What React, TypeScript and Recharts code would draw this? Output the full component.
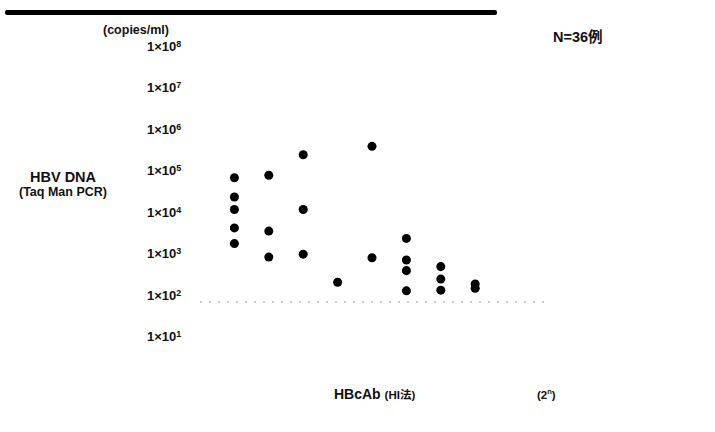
import { ScatterChart, Scatter, XAxis, YAxis, ZAxis, ReferenceLine } from 'recharts';

// HBcAb titre columns (2^n), left to right
const titerCols = [1, 2, 3, 4, 5, 6, 7, 8];

// HBV DNA (copies/ml) per column
const col1 = [70000, 24000, 12000, 4300, 1800];
const col2 = [80000, 3600, 850];
const col3 = [250000, 12000, 1000];
const col4 = [210];
const col5 = [400000, 820];
const col6 = [2400, 720, 400, 130];
const col7 = [500, 250, 135];
const col8 = [190, 150];

const dnaByCol = [col1, col2, col3, col4, col5, col6, col7, col8];

const yTicks = [10, 100, 1000, 10000, 100000, 1000000, 10000000, 100000000];

const FONT = '"Liberation Sans", Arial, "Noto Sans CJK JP", sans-serif';

const points = titerCols.flatMap((t, i) => dnaByCol[i].map((v) => ({ titer: t, dna: v })));

function PowTick({ x, y, payload }: any) {
  const exp = Math.round(Math.log10(payload.value));
  return (
    <text x={x - 45} y={y + 4} fontFamily={FONT} fontWeight="bold" fontSize={13} fill="#111">
      <tspan>1×10</tspan>
      <tspan dy={-4} fontSize={9}>{exp}</tspan>
    </text>
  );
}

export default function App() {
  return (
    <div style={{ position: 'absolute', left: 0, top: 0, width: 715, height: 432, background: '#fff', fontFamily: FONT }}>
      <div style={{ position: 'absolute', left: 5, top: 10, width: 492, height: 5, background: '#000', borderRadius: 2 }} />
      <ScatterChart width={715} height={432} margin={{ top: 47, right: 171, bottom: 95, left: 140 }}>
        <XAxis type="number" dataKey="titer" domain={[0, 10]} hide />
        <YAxis
          type="number"
          dataKey="dna"
          scale="log"
          domain={[10, 100000000]}
          ticks={yTicks}
          axisLine={false}
          tickLine={false}
          tick={<PowTick />}
          width={60}
          allowDataOverflow
        />
        <ZAxis range={[38, 38]} />
        <ReferenceLine y={70} stroke="#999" strokeDasharray="2 7" strokeWidth={1} />
        <Scatter data={points} fill="#000" isAnimationActive={false} />
      </ScatterChart>
      <div style={{ position: 'absolute', left: 103, top: 23, fontSize: 12.5, fontWeight: 'bold', color: '#111' }}>(copies/ml)</div>
      <div style={{ position: 'absolute', left: 553, top: 25, fontSize: 14.5, fontWeight: 'bold', color: '#111' }}>N=36例</div>
      <div style={{ position: 'absolute', left: 30, top: 169, fontSize: 14.5, fontWeight: 'bold', color: '#111' }}>HBV DNA</div>
      <div style={{ position: 'absolute', left: 19, top: 185, fontSize: 12.5, fontWeight: 'bold', color: '#111' }}>(Taq Man PCR)</div>
      <div style={{ position: 'absolute', left: 334, top: 386, fontSize: 14, fontWeight: 'bold', color: '#111' }}>
        HBcAb <span style={{ fontSize: 11.5 }}>(HI法)</span>
      </div>
      <div style={{ position: 'absolute', left: 537, top: 387, fontSize: 11.5, fontWeight: 'bold', color: '#111' }}>
        (2<sup style={{ fontSize: 7.5 }}>n</sup>)
      </div>
    </div>
  );
}
